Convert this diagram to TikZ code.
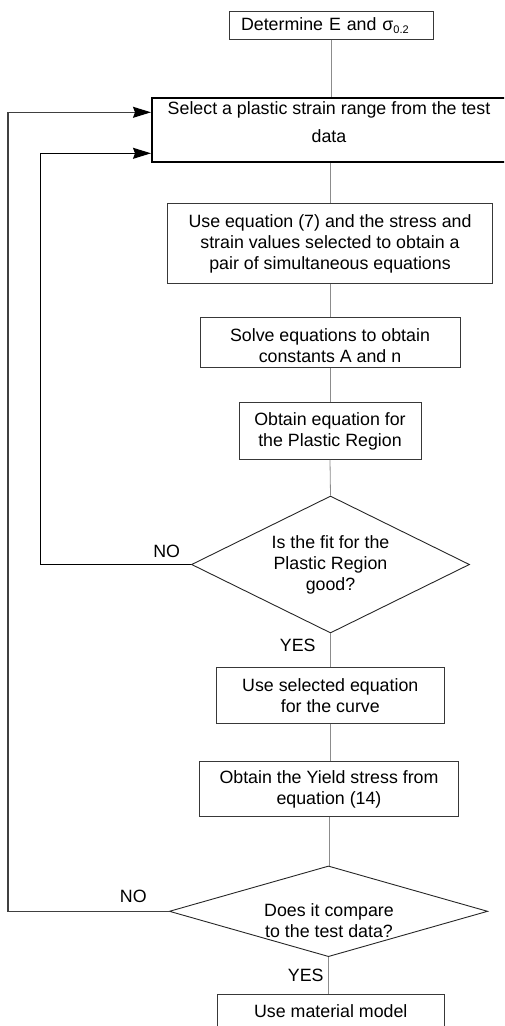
\documentclass[tikz,border=0pt]{standalone}
\usepackage{fontspec}
\setmainfont{Liberation Sans}
\usetikzlibrary{shapes.geometric,arrows.meta}
\begin{document}
\begin{tikzpicture}[x=1pt,y=-1pt,
  every node/.style={font=\fontsize{17.8}{21}\selectfont},
  stepbox/.style={draw=black!78, line width=0.9pt, align=center, inner sep=0pt},
  mainbox/.style={draw=black, line width=2pt, align=center, inner sep=0pt},
  decision/.style={draw=black!85, line width=0.9pt, shape=diamond, inner sep=0pt},
  flow/.style={draw=black!45, line width=0.8pt},
  loopline/.style={draw=black, line width=1.1pt, -{Stealth[length=18pt,width=11pt,inset=2pt,color=black]}},
  lbl/.style={inner sep=0pt}]
\clip (0,0) rectangle (504,1026);
% boxes
\node[stepbox, text width=180pt, align=left, inner xsep=12pt, minimum height=27.6pt] (b1) at (331,25.5)
  {Determine E and σ\raisebox{-3pt}{\fontsize{11}{11}\selectfont 0.2}};
\node[mainbox, minimum width=358pt, minimum height=64.3pt] (b2) at (331,129.8) {};
\node[lbl, align=center] (t0) at (329,122.5) {Select a plastic strain range from the test\\[7pt]data};
\node[stepbox, minimum width=324.6pt, minimum height=79.6pt] (b3) at (330,243.5)
  {Use equation (7) and the stress and\\strain values selected to obtain a\\pair of simultaneous equations};
\node[stepbox, minimum width=260pt, minimum height=50.4pt] (b4) at (330,342.5) {};
\node[lbl, align=center] (t4) at (330,345.5) {Solve equations to obtain\\constants A and n};
\node[stepbox, minimum width=182pt, minimum height=56.6pt] (b5) at (330,431)
  {Obtain equation for\\the Plastic Region};
\node[decision, minimum width=278pt, minimum height=137pt] (d1) at (330.5,564.5) {};
\node[lbl, align=center] (t1) at (330.5,565) {Is the fit for the\\Plastic Region\\good?};
\node[stepbox, minimum width=227.3pt, minimum height=55.7pt] (b6) at (330.3,695.2)
  {Use selected equation\\for the curve};
\node[stepbox, minimum width=259.4pt, minimum height=55pt] (b7) at (329,789.2)
  {Obtain the Yield stress from\\equation (14)};
\node[decision, minimum width=318.4pt, minimum height=90.7pt] (d2) at (328.5,911.3) {};
\node[lbl, align=center] (t2) at (329,921) {Does it compare\\to the test data?};
\node[stepbox, minimum width=226.3pt, minimum height=32pt, anchor=north] (b8) at (330.8,994.3)
  {Use material model};
% labels
\node[lbl] (no1) at (166.7,551.7) {NO};
\node[lbl] (yes1) at (297.7,645.7) {YES};
\node[lbl] (no2) at (133.3,896.7) {NO};
\node[lbl] (yes2) at (305.7,975) {YES};
% flow connectors
\draw[flow] (b1.south) -- (b1.south |- b2.north);
\draw[flow] (b2.south -| b3.north) -- (b3.north);
\draw[flow] (b3.south) -- (b4.north);
\draw[flow] (b4.south) -- (b5.north);
\draw[flow] (b5.south) -- (d1.north);
\draw[flow] (d1.south) -- (d1.south |- b6.north);
\draw[flow] (b6.south) -- (b6.south |- b7.north);
\draw[flow] (b7.south) -- (b7.south |- d2.north);
\draw[flow] (d2.south) -- (d2.south |- b8.north);
% loops
\coordinate (inA) at (40.7,153.3);
\coordinate (outA) at (8,112.3);
\draw[loopline] (d1.west) -| (inA) -- (inA -| b2.west);
\draw[loopline, draw=black!75] (d2.west) -| (outA) -- (outA -| b2.west);
\end{tikzpicture}
\end{document}
